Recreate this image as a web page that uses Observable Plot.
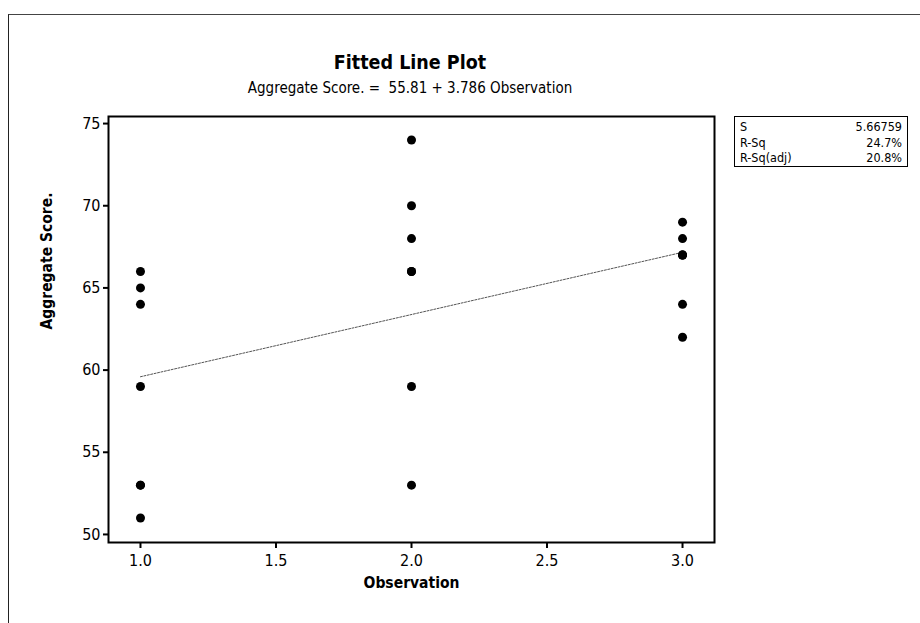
<!DOCTYPE html>
<html>
<head>
<meta charset="utf-8">
<script src="https://cdn.jsdelivr.net/npm/d3@7"></script>
<script src="https://cdn.jsdelivr.net/npm/@observablehq/plot@0.6"></script>
<style>
  html, body { margin: 0; padding: 0; background: #fff; }
  #page { position: relative; width: 920px; height: 623px; overflow: hidden; background: #fff;
          font-family: "DejaVu Sans Condensed", "DejaVu Sans", sans-serif; color: #000; }
  #border { position: absolute; left: 8px; top: 14px; width: 920px; height: 623px;
            border-left: 1.5px solid #222; border-top: 1px solid #444; }
  #title { position: absolute; left: 0; width: 820px; top: 51px; text-align: center;
           font-size: 19.5px; font-weight: bold; }
  #subtitle { position: absolute; left: 0; width: 820px; top: 79px; text-align: center;
              font-size: 15px; }
  #chart { position: absolute; left: 0; top: 100px; }
  #stats { position: absolute; left: 734px; top: 116px; width: 174px; height: 51px; border: 1.5px solid #000;
           font-size: 12.5px; padding: 2px 5px 2px 5px; box-sizing: border-box; }
  #stats .row { display: flex; justify-content: space-between; line-height: 15.5px; }
</style>
</head>
<body>
<div id="page">
  <div id="border"></div>
  <div id="title">Fitted Line Plot</div>
  <div id="subtitle">Aggregate Score. =&nbsp; 55.81 + 3.786 Observation</div>
  <div id="chart"></div>
  <div id="stats"></div>
</div>
<script>
// Data (duplicates chosen so the fit reproduces 55.81 + 3.786x, S = 5.66759)
const observation = [1,1,1,1,1,1,1, 2,2,2,2,2,2,2, 3,3,3,3,3,3,3];
const aggregateScore = [66,65,64,59,53,53,51, 74,70,68,66,66,59,53, 69,68,67,67,67,64,62];
const xTicks = [1.0, 1.5, 2.0, 2.5, 3.0];
const yTicks = [50, 55, 60, 65, 70, 75];
const statLabels = ["S", "R-Sq", "R-Sq(adj)"];
const statValues = ["5.66759", "24.7%", "20.8%"];

const data = observation.map((x, i) => ({x, y: aggregateScore[i]}));

const stats = document.getElementById("stats");
statLabels.forEach((l, i) => {
  const r = document.createElement("div");
  r.className = "row";
  r.innerHTML = `<span>${l}</span><span>${statValues[i]}</span>`;
  stats.appendChild(r);
});

const chart = Plot.plot({
  width: 920,
  height: 500,
  marginTop: 16,
  marginBottom: 58,
  marginLeft: 108,
  marginRight: 206,
  style: {fontFamily: '"DejaVu Sans Condensed", "DejaVu Sans", sans-serif', fontSize: "16px", color: "#000", background: "transparent"},
  x: {domain: [0.882, 3.118]},
  y: {domain: [49.51, 75.43]},
  marks: [
    Plot.frame({stroke: "#000", strokeWidth: 2}),
    Plot.axisX({ticks: xTicks, tickFormat: d3.format(".1f"), tickSize: 6, tickPadding: 6, label: null, strokeWidth: 2}),
    Plot.axisY({ticks: yTicks, tickSize: 5, tickPadding: 3, label: null, strokeWidth: 2}),
    Plot.text(["Observation"], {frameAnchor: "bottom", dy: 45, fontWeight: "bold", fontSize: 15.5}),
    Plot.text(["Aggregate Score."], {frameAnchor: "left", dx: -61, rotate: -90, fontWeight: "bold", fontSize: 15.5}),
    Plot.linearRegressionY(data, {x: "x", y: "y", ci: 0, stroke: "#555", strokeWidth: 1, strokeDasharray: "2,1.5"}),
    Plot.dot(data, {x: "x", y: "y", r: 4.5, fill: "#000", stroke: "none"})
  ]
});
document.getElementById("chart").appendChild(chart);
</script>
</body>
</html>
